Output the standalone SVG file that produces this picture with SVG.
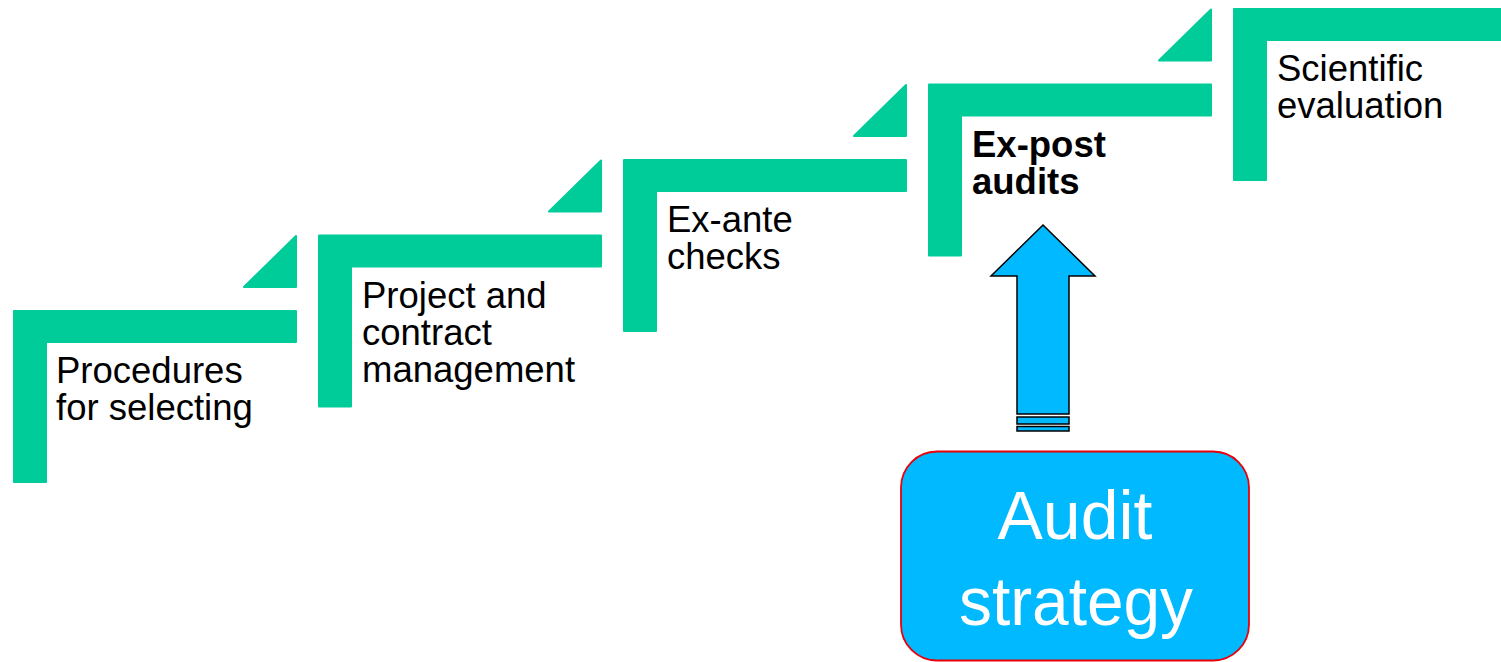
<svg xmlns="http://www.w3.org/2000/svg" width="1501" height="662" viewBox="0 0 1501 662">
<style>
.step{fill:#00CC99;stroke:#00CC99;stroke-width:2;stroke-linejoin:round}
.lbl{font-family:"Liberation Sans",Arial,sans-serif;font-size:36.5px;fill:#000}
.bold{font-weight:bold}
.arrow{fill:#00B9FF;stroke:#000;stroke-width:1.5}
.box{fill:#00B9FF;stroke:#E8000B;stroke-width:1.8}
.boxt{font-family:"Liberation Sans",Arial,sans-serif;font-size:68px;fill:#fff;text-anchor:middle}
</style>
<defs>
<path id="ell" d="M0,0 H282 V31 H32 V171 H0 Z"/>
<path id="tri" d="M230,-24 H282 V-75 Z"/>
</defs>
<rect width="1501" height="662" fill="#fff"/>
<g id="step1" transform="translate(14,311)">
<use href="#ell" class="step"/><use href="#tri" class="step"/>
<text class="lbl" x="42" y="72">Procedures</text>
<text class="lbl" x="42" y="109">for selecting</text>
</g>
<g id="step2" transform="translate(319,235.5)">
<use href="#ell" class="step"/><use href="#tri" class="step"/>
<text class="lbl" x="43" y="72">Project and</text>
<text class="lbl" x="43" y="109">contract</text>
<text class="lbl" x="43" y="146">management</text>
</g>
<g id="step3" transform="translate(624,160)">
<use href="#ell" class="step"/><use href="#tri" class="step"/>
<text class="lbl" x="43" y="72">Ex-ante</text>
<text class="lbl" x="43" y="109">checks</text>
</g>
<g id="step4" transform="translate(929,84.5)">
<use href="#ell" class="step"/><use href="#tri" class="step"/>
<text class="lbl bold" x="43" y="72">Ex-post</text>
<text class="lbl bold" x="43" y="109">audits</text>
</g>
<g id="step5" transform="translate(1234,9)">
<use href="#ell" class="step"/>
<text class="lbl" x="43" y="72">Scientific</text>
<text class="lbl" x="43" y="109">evaluation</text>
</g>
<g id="strategy">
<rect class="box" x="901" y="451.5" width="348" height="209" rx="36" ry="36"/>
<text class="boxt" x="1075" y="539">Audit</text>
<text class="boxt" x="1076" y="625" textLength="234" lengthAdjust="spacingAndGlyphs">strategy</text>
</g>
<g id="connectors">
<path class="arrow" d="M1043,225 L1095,276 L1069,276 L1069,414 L1017,414 L1017,276 L991,276 Z"/>
<rect class="arrow" x="1017" y="417" width="52" height="7"/>
<rect class="arrow" x="1017" y="426.5" width="52" height="4.5"/>
</g>
</svg>
